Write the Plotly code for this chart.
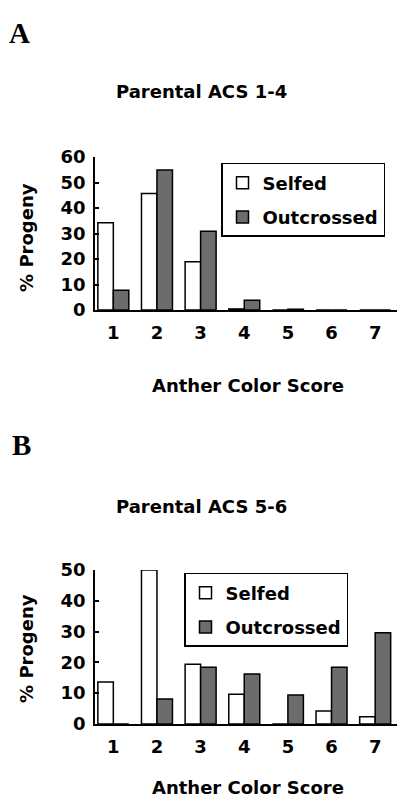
import plotly.graph_objects as go

W, H = 397, 805

scores = [1, 2, 3, 4, 5, 6, 7]
a_selfed = [34.2, 45.7, 18.9, 0.4, 0, 0, 0]
a_outcrossed = [7.7, 54.9, 30.9, 3.8, 0.3, 0, 0]
b_selfed = [13.6, 50.0, 19.4, 9.6, 0, 4.2, 2.3]
b_outcrossed = [0, 8.1, 18.4, 16.2, 9.4, 18.4, 29.6]

series_names = ["Selfed", "Outcrossed"]
fills = ["white", "#6c6c6c"]

FONT = "DejaVu Sans"
FS = 18

def px(x):
    return x / W

def py(y):
    return 1 - y / H

fig = go.Figure()

panels = [
    ("x", "y", "legend", a_selfed, a_outcrossed),
    ("x2", "y2", "legend2", b_selfed, b_outcrossed),
]
for xa, ya, lg, s, o in panels:
    for name, vals, col in zip(series_names, [s, o], fills):
        fig.add_trace(go.Bar(
            x=scores, y=vals, name=name, xaxis=xa, yaxis=ya, legend=lg,
            legendgroup=lg + name,
            marker=dict(color=col, line=dict(color="black", width=1.5)),
        ))

x_dom = [px(95), 1.0]
axis_common = dict(showline=True, linecolor="black", linewidth=1.5,
                   showgrid=False, zeroline=False)
xcommon = dict(axis_common, range=[0.58, 7.5], tickmode="array", tickvals=scores,
               ticks="", tickfont=dict(family=FONT, size=FS, weight="bold", color="black"),
               ticklabelstandoff=6, fixedrange=True)
ycommon = dict(axis_common, ticks="inside", ticklen=4, tickwidth=1.5, tickcolor="black",
               dtick=10, tickfont=dict(family=FONT, size=FS, weight="bold", color="black"),
               ticklabelstandoff=4, fixedrange=True)

legend_common = dict(xanchor="left", yanchor="top",
                     bordercolor="black", borderwidth=1.5, bgcolor="white",
                     font=dict(family=FONT, size=FS, weight="bold", color="black"),
                     traceorder="grouped", tracegroupgap=8, itemwidth=30)

fig.update_layout(
    width=W, height=H,
    margin=dict(l=0, r=0, t=0, b=0),
    paper_bgcolor="white", plot_bgcolor="white",
    barmode="group", bargap=0.29, bargroupgap=0,
    xaxis=dict(xcommon, domain=x_dom, anchor="y"),
    yaxis=dict(ycommon, domain=[py(307), py(150)], range=[0, 60], anchor="x"),
    xaxis2=dict(xcommon, domain=x_dom, anchor="y2"),
    yaxis2=dict(ycommon, domain=[py(732), py(574)], range=[0, 50], anchor="x2"),
    legend=dict(legend_common, x=px(221), y=py(156)),
    legend2=dict(legend_common, x=px(184), y=py(577)),
    showlegend=True,
)

def ann(text, x, y, size=FS, family=FONT, weight="bold", angle=0):
    fig.add_annotation(text=text, x=px(x), y=py(y), xref="paper", yref="paper",
                       xanchor="center", yanchor="middle", showarrow=False,
                       textangle=angle,
                       font=dict(family=family, size=size, weight=weight, color="black"))

ann("A", 19.5, 23, size=29, family="Liberation Serif")
ann("B", 21, 446, size=29, family="Liberation Serif")
ann("Parental ACS 1-4", 201, 83)
ann("Parental ACS 5-6", 201, 509)
ann("Anther Color Score", 247.5, 385)
ann("Anther Color Score", 247.5, 797)
ann("% Progeny", 27, 233, angle=-90)
ann("% Progeny", 27, 655, angle=-90)

fig.write_html("out.html",
               config={"displayModeBar": False},
               post_script="document.body.style.margin='0';document.body.style.overflow='hidden';")
